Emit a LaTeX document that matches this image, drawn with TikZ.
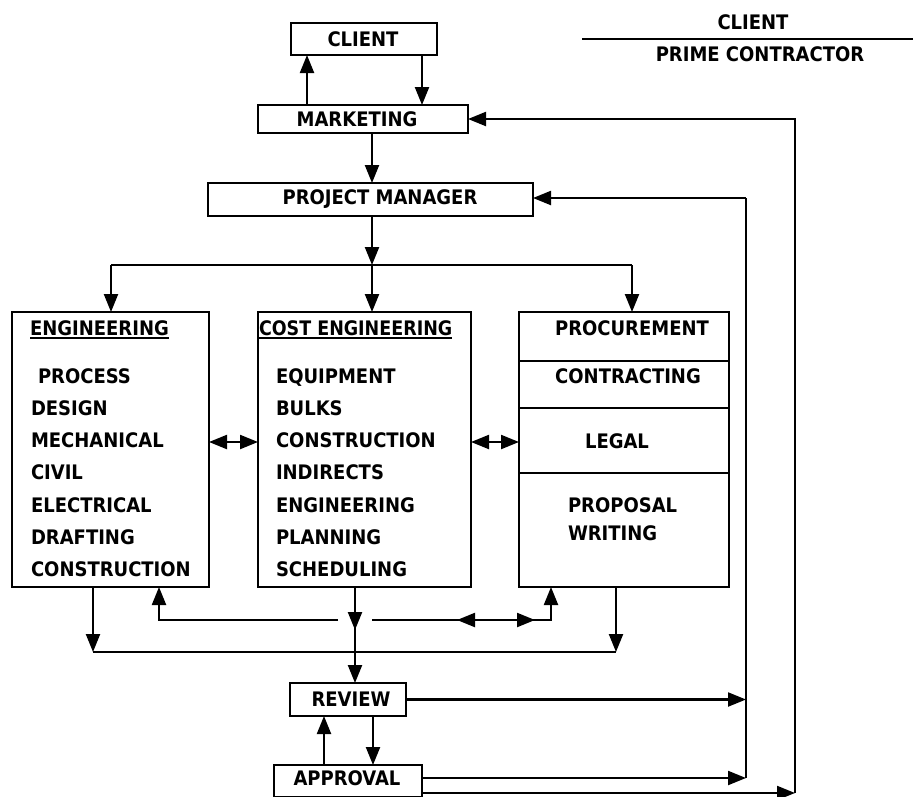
\documentclass[tikz,border=0pt]{standalone}
\usepackage{fontspec}
\setmainfont{DejaVu Sans Condensed}
\usetikzlibrary{arrows.meta,calc,decorations.markings}
\tikzset{
  bx/.style={draw,line width=2.3pt,inner sep=0pt,outer sep=0pt},
  lbl/.style={font=\bfseries\fontsize{20}{24}\selectfont,inner sep=0pt,outer sep=0pt},
  ln/.style={line width=2.2pt},
  arr/.style={ln,-{Triangle[length=18pt,width=14pt]}},
  darr/.style={ln,{Triangle[length=18pt,width=14pt]}-{Triangle[length=18pt,width=14pt]}},
  ulin/.style={line width=2pt}
}
\begin{document}
\begin{tikzpicture}[x=1pt,y=-1pt]
\useasboundingbox (0,0) rectangle (913,796);
\fill[white] (0,0) rectangle (913,796);
\clip (0,0) rectangle (913,796);

% boxes
\node[bx,minimum width=146pt,minimum height=32pt] (client) at (364,39) {};
\node[lbl] (tclient) at (363,39) {CLIENT};
\node[bx,minimum width=210pt,minimum height=28pt] (mkt) at (363,119) {};
\node[lbl] (tmkt) at (357,119) {MARKETING};
\node[bx,minimum width=325pt,minimum height=33pt] (pm) at (370.5,199.5) {};
\node[lbl] (tpm) at (380,199.5) {PROJECT MANAGER};
\node[bx,minimum width=197pt,minimum height=275pt] (eng) at (110.5,449.5) {};
\node[bx,minimum width=213pt,minimum height=275pt] (cost) at (364.5,449.5) {};
\node[bx,minimum width=210pt,minimum height=275pt] (proc) at (624,449.5) {};
\node[bx,minimum width=116pt,minimum height=33pt] (review) at (348,699.5) {};
\node[lbl] (treview) at (351,699.5) {REVIEW};
\node[bx,minimum width=148pt,minimum height=32pt] (approval) at (348,781) {};
\node[lbl] (tapproval) at (347,778) {APPROVAL};

% engineering contents
\node[lbl,anchor=base west] (engh) at (30,335) {ENGINEERING};
\draw[ulin] ([yshift=-3pt]engh.base west) -- ([yshift=-3pt]engh.base east);
\node[lbl,anchor=base west] (e1) at (38,383) {PROCESS};
\node[lbl,anchor=base west] (e2) at (31,415.3) {DESIGN};
\node[lbl,anchor=base west] (e3) at (31,447.6) {MECHANICAL};
\node[lbl,anchor=base west] (e4) at (31,479.9) {CIVIL};
\node[lbl,anchor=base west] (e5) at (31,512.2) {ELECTRICAL};
\node[lbl,anchor=base west] (e6) at (31,544.5) {DRAFTING};
\node[lbl,anchor=base west] (e7) at (31,576.8) {CONSTRUCTION};

% cost engineering contents
\node[lbl,anchor=base west] (costh) at (259,335) {\scalebox{0.972}[1]{COST ENGINEERING}};
\draw[ulin] ([yshift=-3pt]costh.base west) -- ([yshift=-3pt]costh.base east);
\node[lbl,anchor=base west] (c1) at (276,383) {EQUIPMENT};
\node[lbl,anchor=base west] (c2) at (276,415.3) {BULKS};
\node[lbl,anchor=base west] (c3) at (276,447.6) {CONSTRUCTION};
\node[lbl,anchor=base west] (c4) at (276,479.9) {INDIRECTS};
\node[lbl,anchor=base west] (c5) at (276,512.2) {ENGINEERING};
\node[lbl,anchor=base west] (c6) at (276,544.5) {PLANNING};
\node[lbl,anchor=base west] (c7) at (276,576.8) {SCHEDULING};

% procurement contents
\draw[ln] (proc.west |- 0,361) -- (proc.east |- 0,361);
\draw[ln] (proc.west |- 0,408) -- (proc.east |- 0,408);
\draw[ln] (proc.west |- 0,473) -- (proc.east |- 0,473);
\node[lbl,anchor=base] (p1) at (632,335) {PROCUREMENT};
\node[lbl,anchor=base] (p2) at (628,383) {CONTRACTING};
\node[lbl,anchor=base] (p3) at (617,448) {LEGAL};
\node[lbl,anchor=base west] (p4) at (568,512) {PROPOSAL};
\node[lbl,anchor=base west] (p5) at (568,540) {WRITING};

% legend top right
\node[lbl] (hclient) at (753,22) {CLIENT};
\coordinate (hl1) at (582,39);
\coordinate (hl2) at (913,39);
\draw[ln] (hl1) -- (hl2);
\node[lbl] (hprime) at (760,54.5) {PRIME CONTRACTOR};

% client / marketing / pm
\draw[arr] (mkt.north -| 307,0) -- (client.south -| 307,0);
\draw[arr] (client.south -| 422,0) -- (mkt.north -| 422,0);
\draw[arr] (mkt.south -| 372,0) -- (pm.north -| 372,0);

% branching
\coordinate (br) at (372,265);
\coordinate (brL) at (111,265);
\coordinate (brR) at (632,265);
\draw[arr] (pm.south -| br) -- (br);
\draw[ln] (brL) -- (brR);
\draw[arr] (br) -- (cost.north -| br);
\draw[arr] (brL) -- (eng.north -| brL);
\draw[arr] (brR) -- (proc.north -| brR);

% lateral double arrows
\draw[darr] (eng.east |- 0,442) -- (cost.west |- 0,442);
\draw[darr] (cost.east |- 0,442) -- (proc.west |- 0,442);

% bottom collection
\coordinate (bL) at (93,652);
\coordinate (bR) at (616,652);
\draw[arr] (eng.south -| bL) -- (bL);
\draw[ln] (bL) -- (bR);
\draw[arr] (proc.south -| bR) -- (bR);
\draw[arr,postaction={decorate},decoration={markings,mark=at position 43pt with {\arrow{Triangle[length=18pt,width=14pt]}}}]
  (cost.south -| 355,0) -- (review.north -| 355,0);
\coordinate (uL) at (338,620);
\coordinate (uLc) at (159,620);
\draw[arr] (uL) -- (uLc) -- (eng.south -| uLc);
\coordinate (uR) at (372,620);
\coordinate (uRc) at (551,620);
\draw[arr,postaction={decorate},decoration={markings,
    mark=at position 85pt with {\arrowreversed{Triangle[length=18pt,width=14pt]}},
    mark=at position 163pt with {\arrow{Triangle[length=18pt,width=14pt]}}}]
  (uR) -- (uRc) -- (proc.south -| uRc);

% review / approval
\draw[arr] (approval.north -| 324,0) -- (review.south -| 324,0);
\draw[arr] (review.south -| 373,0) -- (approval.north -| 373,0);

% return to project manager
\coordinate (rT) at (746,198);
\coordinate (rA) at (746,778);
\draw[ln] (rA) -- (rT);
\draw[arr] (rT) -- (pm.east |- rT);
\draw[arr] (review.east) -- (review.east -| rT);
\draw[arr] (approval.east |- rA) -- (rA);

% return to marketing
\coordinate (oT) at (795,119);
\coordinate (oB) at (795,793);
\draw[arr] (approval.east |- oB) -- (oB);
\draw[arr] (oB) -- (oT) -- (mkt.east);
\end{tikzpicture}
\end{document}
